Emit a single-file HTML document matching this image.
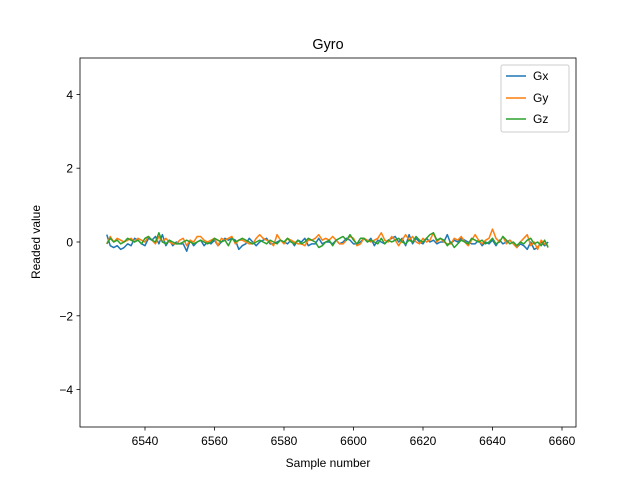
<!DOCTYPE html>
<html><head><meta charset="utf-8"><style>
body{margin:0;background:#fff;}
svg{font-family:"Liberation Sans","DejaVu Sans",sans-serif;}
</style></head><body>
<svg id="chart" width="640" height="480" xmlns="http://www.w3.org/2000/svg">
<rect width="640" height="480" fill="#fff"/>
<text x="328" y="49" font-size="14.4" text-anchor="middle">Gyro</text>
<text x="328" y="467" font-size="12" text-anchor="middle">Sample number</text>
<text transform="translate(40,242) rotate(-90)" font-size="12" text-anchor="middle">Readed value</text>
<g id="ticks"></g>
<g id="lines"></g>
<rect x="80" y="58" width="496" height="369" fill="none" stroke="#000" stroke-width="0.8"/>
<g>
<rect x="501" y="65" width="68" height="67" rx="2" fill="#fff" fill-opacity="0.8" stroke="#ccc"/>
<line x1="506" y1="76" x2="526" y2="76" stroke="#1f77b4" stroke-width="1.5"/>
<text x="533" y="80" font-size="12">Gx</text>
<line x1="506" y1="98" x2="526" y2="98" stroke="#ff7f0e" stroke-width="1.5"/>
<text x="533" y="102" font-size="12">Gy</text>
<line x1="506" y1="119" x2="526" y2="119" stroke="#2ca02c" stroke-width="1.5"/>
<text x="533" y="123" font-size="12">Gz</text>
</g>
</svg>
<script>
const xStart = 6529;
const xTicks = [6540,6560,6580,6600,6620,6640,6660];
const yTicks = [-4,-2,0,2,4];
const gx = [0.2,-0.1,-0.15,-0.1,-0.2,-0.15,-0.05,-0.1,0.1,0.05,-0.05,-0.1,0.1,0.05,0.15,-0.05,0.2,-0.1,0.05,-0.1,0.0,-0.05,-0.05,-0.25,0.05,-0.1,0.0,0.05,-0.1,0.0,-0.05,0.05,-0.1,0.0,0.1,0.05,0.1,0.05,-0.2,-0.1,-0.05,0.1,0.0,-0.1,0.0,0.05,0.1,-0.05,-0.05,0.0,0.05,0.0,-0.05,0.05,-0.1,0.05,0.0,0.1,-0.1,-0.05,-0.05,0.1,-0.05,0.0,0.0,-0.05,0.05,-0.05,0.0,0.1,0.05,-0.05,-0.05,0.0,0.1,0.0,0.1,-0.1,0.05,0.0,-0.05,0.05,0.1,0.15,0.0,0.1,-0.1,0.2,-0.05,0.1,0.0,-0.05,0.1,0.0,0.05,-0.05,0.0,0.0,0.2,-0.05,0.05,0.0,0.1,0.05,0.0,-0.05,-0.05,0.05,-0.1,0.0,-0.05,0.05,-0.1,0.05,-0.05,0.0,0.05,-0.05,-0.15,-0.05,-0.1,-0.2,0.0,-0.2,-0.15,0.0,-0.1,0.0];
const gy = [-0.05,0.15,0.0,0.1,0.05,0.0,0.05,0.1,0.0,0.1,0.05,0.0,0.15,0.05,-0.05,0.15,0.0,0.1,0.0,-0.05,-0.05,0.05,0.1,-0.1,0.05,0.0,0.15,0.15,0.05,0.0,0.05,0.1,-0.1,0.1,0.05,0.1,0.15,-0.05,0.05,0.05,0.0,-0.05,-0.05,0.1,0.2,0.1,0.05,0.0,-0.1,0.2,0.05,-0.05,0.1,0.05,0.0,-0.05,-0.05,-0.1,0.05,0.05,0.1,0.2,0.05,0.1,0.05,0.15,0.05,-0.05,-0.05,0.05,0.15,0.1,-0.1,-0.05,0.1,0.05,0.0,0.05,0.1,0.25,0.05,0.0,0.15,0.05,-0.1,0.05,0.2,0.05,0.15,0.0,-0.05,0.1,0.0,0.05,0.25,0.0,0.1,0.0,-0.05,-0.05,0.1,0.05,0.15,0.0,-0.1,0.05,0.2,0.05,-0.05,0.05,0.1,0.35,0.1,0.0,0.15,-0.05,0.05,-0.05,-0.15,0.0,0.1,0.2,-0.1,0.0,-0.2,0.05,-0.05,-0.1];
const gz = [-0.05,0.1,0.0,0.05,-0.05,0.0,0.1,0.05,0.0,0.05,-0.05,0.1,0.15,0.05,0.0,0.25,0.0,-0.05,0.05,0.0,-0.05,-0.05,0.0,0.05,0.0,-0.05,0.0,0.05,0.0,-0.05,0.0,0.1,0.05,0.0,0.05,-0.1,0.1,0.0,0.05,0.1,0.05,0.0,-0.05,0.0,0.05,0.0,-0.05,0.05,0.0,-0.05,0.05,0.0,0.1,0.0,-0.05,0.05,-0.05,0.0,0.1,0.05,0.0,-0.15,-0.1,0.0,0.05,-0.1,0.05,0.1,0.15,0.05,0.2,0.05,-0.05,0.1,0.1,0.0,0.05,0.0,-0.05,0.1,-0.05,0.05,0.0,0.05,0.1,0.0,-0.05,0.05,0.0,0.15,0.05,0.0,0.1,0.2,0.25,0.05,0.1,0.05,-0.1,0.0,-0.15,-0.05,0.05,0.0,-0.05,0.1,0.05,0.0,0.05,-0.05,0.0,0.1,-0.05,0.0,0.15,0.05,-0.05,0.0,-0.1,0.0,-0.05,0.05,0.1,-0.05,0.0,-0.1,0.05,-0.15];
const NS='http://www.w3.org/2000/svg';
const X = v => 145 + (v-6540)*(562-145)/120;
const Y = v => 242 - v*36.9;
const tg = document.getElementById('ticks');
function mk(tag, attrs, parent){const e=document.createElementNS(NS,tag);for(const k in attrs)e.setAttribute(k,attrs[k]);parent.appendChild(e);return e;}
xTicks.forEach(t=>{
  const l=mk('line',{x1:X(t),x2:X(t),y1:427,y2:430.5,stroke:'#000','stroke-width':0.8},tg);
  
  
  const s=mk('text',{x:X(t),y:445,'font-size':12,'text-anchor':'middle'},tg);
  s.textContent=t;
  
  
});
yTicks.forEach(t=>{
  const l=mk('line',{x1:76.5,x2:80,y1:Y(t),y2:Y(t),stroke:'#000','stroke-width':0.8},tg);
  
  
  const s=mk('text',{x:73,y:Y(t)+4.5,'font-size':12,'text-anchor':'end'},tg);
  s.textContent=(t<0?'\u2212'+(-t):t);
  
  
});
const lg=document.getElementById('lines');
[[gx,'#1f77b4','gx'],[gy,'#ff7f0e','gy'],[gz,'#2ca02c','gz']].forEach(([d,c,n])=>{
  const pts=d.map((v,i)=>X(xStart+i).toFixed(2)+','+Y(v).toFixed(2)).join(' ');
  const p=mk('polyline',{points:pts,fill:'none',stroke:c,'stroke-width':1.5,'stroke-linejoin':'round'},lg);
  
  
});
</script>
</body></html>
